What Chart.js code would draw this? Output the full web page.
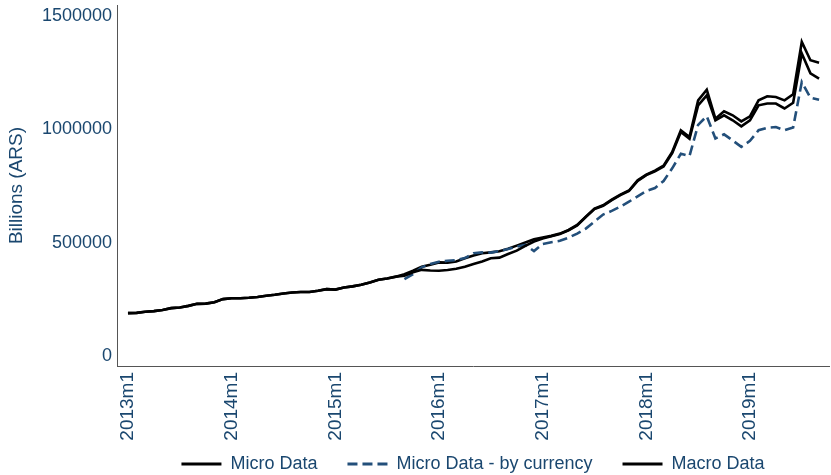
<!DOCTYPE html>
<html>
<head>
<meta charset="utf-8">
<script src="https://cdn.jsdelivr.net/npm/chart.js@4"></script>
<style>
html,body{margin:0;padding:0;background:#fff}
#wrap{width:831px;height:475px}
</style>
</head>
<body>
<div id="wrap"><canvas id="c" width="831" height="475"></canvas></div>
<script>
// monthly series, 2013m1 .. 2019m9, billions of ARS
const months=[];
for(let i=0;i<81;i++)months.push((2013+Math.floor(i/12))+'m'+(i%12+1));

const xTickIdx=[0,12,24,36,48,60,72];
const xTickLabels=['2013m1','2014m1','2015m1','2016m1','2017m1','2018m1','2019m1'];
const yTicks=[0,500000,1000000,1500000];

const microData=[189000,190000,195000,198000,203000,211000,214000,221000,230000,231000,237000,251000,
  255000,255000,257000,260000,266000,270000,276000,280000,282000,282000,288000,295000,
  293000,302000,307000,314000,324000,336000,342000,350000,
  354000,369000,380000,377000,376000,379000,385000,394000,406000,417000,431000,434000,450000,465000,486000,505000,
  518000,528000,538000,554000,576000,613000,648000,663000,688000,710000,728000,772000,798000,815000,836000,895000,
  988000,958000,1106000,1150000,1040000,1062000,1040000,1013000,1040000,1106000,1114000,1114000,1092000,1117000,1335000,1247000,1224000];

const byCurrency=[null,null,null,null,null,null,null,null,null,null,null,null,
  null,null,null,null,null,null,null,null,null,null,null,null,
  null,null,null,null,null,null,null,null,
  339000,361000,391000,406000,416000,420000,423000,432000,453000,457000,456000,463000,472000,482000,490000,463000,
  494000,502000,508000,522000,540000,562000,593000,624000,640000,659000,681000,704000,728000,741000,772000,828000,
  892000,882000,1020000,1058000,960000,978000,951000,923000,949000,996000,1007000,1010000,996000,1008000,1209000,1140000,1131000];

const macroData=[189000,190000,195000,198000,203000,211000,214000,221000,230000,231000,237000,251000,
  255000,255000,257000,260000,266000,270000,276000,280000,282000,282000,288000,295000,
  293000,302000,307000,314000,324000,336000,342000,350000,
  361000,376000,394000,403000,413000,412000,417000,431000,443000,453000,457000,462000,473000,487000,501000,515000,
  523000,530000,540000,556000,578000,615000,650000,665000,690000,712000,730000,775000,800000,818000,840000,900000,
  996000,966000,1128000,1175000,1047000,1080000,1062000,1035000,1057000,1128000,1146000,1143000,1128000,1155000,1386000,1305000,1294000];

const NAVY='#1a476f';
const FONT='"Liberation Sans", Arial, sans-serif';
Chart.defaults.font={family:FONT,size:18};
Chart.defaults.color=NAVY;

const pts=arr=>arr.map((v,i)=>({x:i,y:v}));
const noPad=s=>{s.paddingTop=0;s.paddingBottom=0;s.paddingLeft=0;s.paddingRight=0;};

// rotated x labels run past the x scale box; let them draw down to the legend
const labelRoom={id:'labelRoom',afterLayout(c){c.scales.x.bottom=c.height;}};

// legend samples as short lines, keeping each dataset's dash
function legendLines(c){
  return Chart.defaults.plugins.legend.labels.generateLabels(c).map(l=>{
    const ds=c.data.datasets[l.datasetIndex];
    l.lineDash=ds.borderDash||[];
    l.lineWidth=2.8;
    l.strokeStyle=ds.borderColor;
    l.pointStyle='line';
    return l;
  });
}

new Chart(document.getElementById('c'),{
  type:'line',
  data:{datasets:[
    {label:'Micro Data',data:pts(microData),borderColor:'#000',backgroundColor:'#000',borderWidth:2.6,pointRadius:0,tension:0,fill:false},
    {label:'Micro Data - by currency',data:pts(byCurrency),borderColor:'#234f7a',backgroundColor:'#234f7a',borderWidth:2.6,borderDash:[10,5],pointRadius:0,tension:0,fill:false,spanGaps:false},
    {label:'Macro Data',data:pts(macroData),borderColor:'#000',backgroundColor:'#000',borderWidth:2.6,pointRadius:0,tension:0,fill:false}
  ]},
  plugins:[labelRoom],
  options:{
    responsive:false,animation:false,
    layout:{padding:{left:0,right:2,top:5,bottom:-8}},
    plugins:{
      legend:{position:'bottom',fullSize:false,
        labels:{usePointStyle:true,pointStyle:'line',pointStyleWidth:40,boxWidth:40,padding:30,color:NAVY,font:{size:18},
          generateLabels:legendLines}},
      tooltip:{enabled:false}
    },
    scales:{
      x:{type:'linear',min:-1.27,max:81.15,
        afterBuildTicks:s=>{s.ticks=xTickIdx.map(v=>({value:v}));},
        afterFit:s=>{s.height=59;noPad(s);},
        grid:{display:false,drawTicks:false},
        border:{display:true,color:'#555',width:1},
        ticks:{autoSkip:false,minRotation:90,maxRotation:90,padding:6,color:NAVY,font:{size:19},
          callback:v=>xTickLabels[xTickIdx.indexOf(v)]}
      },
      y:{type:'linear',min:-44248,max:1548672,
        afterBuildTicks:s=>{s.ticks=yTicks.map(v=>({value:v}));},
        afterFit:s=>{s.width=117;noPad(s);},
        grid:{display:false,drawTicks:false},
        border:{display:true,color:'#555',width:1},
        ticks:{padding:5,color:NAVY,font:{size:18},callback:v=>String(v)},
        title:{display:true,text:'Billions (ARS)',color:NAVY,font:{size:19},padding:{top:5,bottom:0}}
      }
    }
  }
});
</script>
</body>
</html>
